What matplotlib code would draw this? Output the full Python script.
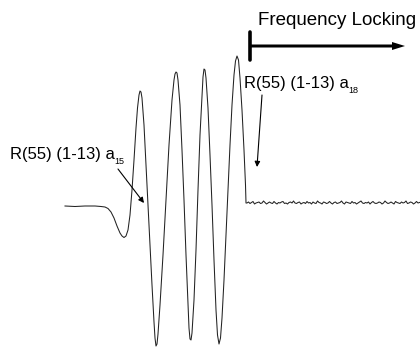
import numpy as np
import matplotlib
matplotlib.use('Agg')
import matplotlib.pyplot as plt

plt.rcParams['font.family'] = ['Liberation Sans', 'DejaVu Sans']

# scan position (arb. units) and signal (arb. units, baseline = 0) of the sweep
scan_x = [0, 10, 20, 30, 36, 40, 43, 46, 49, 52, 55, 57, 59, 61, 63, 65, 67, 69, 71, 72.5,
          74, 75, 76, 77, 79, 81, 83, 85, 87, 89, 90, 91, 92, 93, 95, 98, 101, 104, 107, 109,
          110, 111, 112, 113, 115, 117, 119, 121, 123, 124, 125, 126, 127, 129, 131, 133, 135,
          137, 138, 139, 140, 141, 143, 145, 147, 149, 151, 152.5, 154, 155.5, 157, 159, 161,
          163, 165, 167, 169, 170.5, 172, 173.5, 175, 177, 179, 180.5, 181]
signal = [0, -0.5, 0, 0, -0.5, -1, -2.5, -6, -12, -20, -27, -30, -31.5, -30, -24, -9, 16, 46,
          78, 98, 111, 115, 114, 108, 81, 41, 1, -39, -79, -116, -132, -140, -138, -128, -99,
          -49, 6, 61, 106, 126, 132, 134, 133, 126, 101, 56, 6, -49, -99, -122, -133, -134,
          -127, -94, -44, 16, 71, 111, 129, 137, 136, 128, 98, 51, 1, -54, -104, -129, -138,
          -132, -112, -74, -29, 16, 61, 101, 131, 145, 150, 146, 128, 96, 56, 21, 3]

# locked part: residual noise around the line centre
locked_start = 182
locked_step = 1.5
locked_noise = [3, 4, 2.5, 3.5, 4.5, 2, 3, 3.5, 4, 2.5, 3, 5, 3.5, 2, 3, 4, 3, 2.5, 4.5, 3,
                2, 3.5, 3, 4, 4.5, 2.5, 3, 2, 3.5, 4, 3, 5, 3, 2.5, 3.5, 4, 2, 3, 3.5, 2.5,
                4.5, 3, 3.5, 2, 4, 3, 2.5, 5, 3.5, 3, 2, 4, 3.5, 2.5, 3, 4.5, 3, 2, 3.5, 4,
                2.5, 3, 3.5, 5, 3, 2, 4, 3.5, 3, 2.5, 4.5, 3, 3.5, 2, 3, 4, 5, 3, 2.5, 3.5,
                3, 4, 2, 3.5, 4.5, 3, 2.5, 3, 4, 3.5, 2, 3, 5, 3.5, 2.5, 3, 4, 3, 2, 4.5,
                3.5, 3, 2.5, 4, 3, 3.5, 5, 2.5, 3, 4, 3.5, 2, 3, 4.5, 3, 3.5, 4]
locked_x = locked_start + locked_step * np.arange(len(locked_noise))

lock_pos = 185
lock_end = 340
lock_level = 160

fig = plt.figure(figsize=(4.2, 3.52), dpi=100)
ax = fig.add_axes([0, 0, 1, 1])
ax.set_xlim(-65, 355)
ax.set_ylim(-146, 206)
ax.axis('off')

ax.plot(list(scan_x) + list(locked_x), list(signal) + list(locked_noise),
        color='#222222', lw=0.75)

# frequency locking marker
ax.plot([lock_pos, lock_pos], [lock_level - 14, lock_level + 14], color='k', lw=2.6,
        solid_capstyle='round')
ax.arrow(lock_pos, lock_level, lock_end - lock_pos, 0, width=3, head_width=8,
         head_length=13, length_includes_head=True, color='k', lw=0)
ax.text(193, 181, 'Frequency Locking', fontsize=13.5, ha='left', va='baseline')

arrow_kw = dict(arrowstyle='-|>', lw=0.8, color='k', mutation_scale=8,
                shrinkA=0, shrinkB=0)


def label(text, sub, pos, target, start):
    t = ax.text(pos[0], pos[1], text, fontsize=12, ha='left', va='baseline')
    ax.annotate(sub, xy=(1, 0), xycoords=t, xytext=(-0.3, -1.3),
                textcoords='offset points', fontsize=6.5, va='baseline', ha='left')
    ax.annotate('', xy=target, xytext=start, arrowprops=arrow_kw)


label('R(55) (1-13) a', '18', (179, 118), (192, 39), (197, 111))
label('R(55) (1-13) a', '15', (-55, 47), (79, 3), (53, 37))

fig.savefig('out.png', dpi=100)
